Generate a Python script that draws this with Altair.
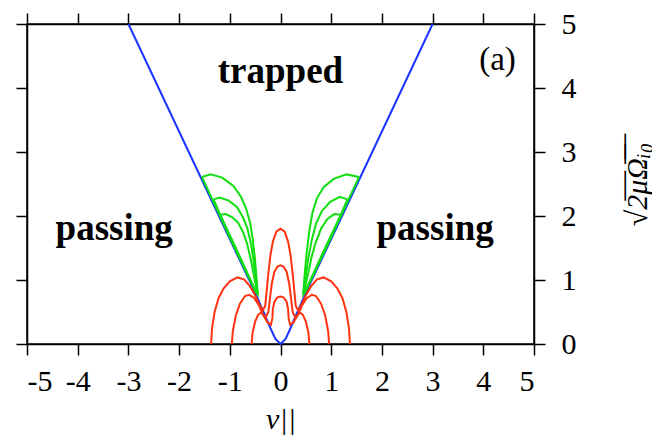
import altair as alt
import pandas as pd

# ---------------- data ----------------
ticks_x = [-5, -4, -3, -2, -1, 0, 1, 2, 3, 4, 5]
ticks_y = [0, 1, 2, 3, 4, 5]

# trapped/passing boundary (blue)
blue_v = [-3.0, -2.0, -1.0, -0.6, -0.45, -0.3, -0.2, -0.1, 0.0, 0.1, 0.2, 0.3, 0.45, 0.6, 1.0, 2.0, 3.0]
blue_y = [5.0, 3.32, 1.64, 0.97, 0.71, 0.44, 0.25, 0.08, 0.0, 0.08, 0.25, 0.44, 0.71, 0.97, 1.64, 3.32, 5.0]

# green loops (left and right)
g1l_v = [-1.55, -1.38, -1.15, -0.93, -0.78, -0.68, -0.60, -0.55, -0.50, -0.47, -0.45, -0.50, -1.00, -1.55]
g1l_y = [2.61, 2.65, 2.60, 2.47, 2.30, 2.12, 1.90, 1.65, 1.30, 1.00, 0.78, 0.84, 1.67, 2.61]
g2l_v = [-1.32, -1.20, -1.02, -0.86, -0.74, -0.65, -0.58, -0.53, -0.49, -0.46, -0.45, -0.50, -1.00, -1.32]
g2l_y = [2.26, 2.29, 2.24, 2.14, 1.98, 1.80, 1.55, 1.30, 1.05, 0.85, 0.78, 0.84, 1.67, 2.26]
g3l_v = [-1.19, -1.08, -0.95, -0.84, -0.74, -0.66, -0.58, -0.52, -0.47, -0.45, -0.50, -0.85, -1.19]
g3l_y = [2.02, 2.03, 1.98, 1.90, 1.75, 1.57, 1.30, 1.05, 0.85, 0.78, 0.84, 1.45, 2.02]
g1r_v = [1.55, 1.30, 1.05, 0.85, 0.72, 0.63, 0.57, 0.52, 0.48, 0.46, 0.45, 0.50, 1.00, 1.55]
g1r_y = [2.61, 2.65, 2.58, 2.45, 2.28, 2.05, 1.78, 1.45, 1.12, 0.90, 0.78, 0.84, 1.68, 2.61]
g2r_v = [1.32, 1.17, 0.98, 0.82, 0.70, 0.61, 0.54, 0.49, 0.46, 0.45, 0.50, 1.00, 1.32]
g2r_y = [2.26, 2.30, 2.22, 2.08, 1.88, 1.60, 1.30, 1.02, 0.85, 0.78, 0.84, 1.67, 2.26]
g3r_v = [1.19, 1.06, 0.92, 0.80, 0.70, 0.61, 0.54, 0.48, 0.45, 0.50, 0.85, 1.19]
g3r_y = [2.02, 2.03, 1.95, 1.80, 1.60, 1.35, 1.08, 0.88, 0.78, 0.84, 1.45, 2.02]

# red orbits
r1_v = [-1.37, -1.35, -1.30, -1.22, -1.12, -1.00, -0.85, -0.72, -0.60, -0.50, -0.42, -0.35,
        -0.30, -0.27, -0.24, -0.20, -0.15, -0.08, 0.00,
        0.08, 0.15, 0.20, 0.24, 0.27, 0.30,
        0.35, 0.42, 0.50, 0.60, 0.72, 0.85, 1.00, 1.12, 1.22, 1.30, 1.35, 1.37]
r1_y = [0.00, 0.25, 0.50, 0.72, 0.87, 0.98, 1.04, 1.01, 0.90, 0.76, 0.62, 0.52,
        0.60, 0.85, 1.10, 1.38, 1.60, 1.76, 1.80,
        1.76, 1.60, 1.38, 1.10, 0.85, 0.60,
        0.52, 0.62, 0.76, 0.90, 1.01, 1.04, 0.98, 0.87, 0.72, 0.50, 0.25, 0.00]
r2_v = [-0.96, -0.94, -0.88, -0.80, -0.70, -0.62, -0.52, -0.43, -0.34,
        -0.30, -0.24, -0.21, -0.17, -0.12, -0.06, 0.00,
        0.06, 0.12, 0.17, 0.21, 0.24, 0.30,
        0.34, 0.43, 0.52, 0.62, 0.70, 0.80, 0.88, 0.94, 0.96]
r2_y = [0.00, 0.20, 0.45, 0.63, 0.75, 0.77, 0.72, 0.61, 0.45,
        0.40, 0.50, 0.70, 0.95, 1.13, 1.21, 1.23,
        1.21, 1.13, 0.95, 0.70, 0.50, 0.40,
        0.45, 0.61, 0.72, 0.77, 0.75, 0.63, 0.45, 0.20, 0.00]
r3_v = [-0.57, -0.55, -0.50, -0.44, -0.38, -0.32, -0.26,
        -0.19, -0.16, -0.15, -0.12, -0.06, 0.00,
        0.06, 0.12, 0.15, 0.16, 0.19,
        0.26, 0.32, 0.38, 0.44, 0.50, 0.55, 0.57]
r3_y = [0.00, 0.18, 0.35, 0.46, 0.49, 0.44, 0.34,
        0.30, 0.40, 0.55, 0.66, 0.73, 0.74,
        0.73, 0.66, 0.55, 0.40, 0.30,
        0.34, 0.44, 0.49, 0.46, 0.35, 0.18, 0.00]

labels = ["trapped", "passing", "passing"]
label_v = [0.0, -3.28, 3.05]
label_y = [4.25, 1.8, 1.8]
panel_tag = "(a)"

# ---------------- tables ----------------
def table(curves):
    rows = []
    for name, vs, ys in curves:
        for i, (v, y) in enumerate(zip(vs, ys)):
            rows.append({"curve": name, "i": i, "v": v, "y": y})
    return pd.DataFrame(rows)

blue_df = table([("blue", blue_v, blue_y)])
green_df = table([("g1l", g1l_v, g1l_y), ("g2l", g2l_v, g2l_y), ("g3l", g3l_v, g3l_y),
                  ("g1r", g1r_v, g1r_y), ("g2r", g2r_v, g2r_y), ("g3r", g3r_v, g3r_y)])
red_df = table([("r1", r1_v, r1_y), ("r2", r2_v, r2_y), ("r3", r3_v, r3_y)])
text_df = pd.DataFrame({"t": labels, "v": label_v, "y": label_y})
tag_df = pd.DataFrame({"t": [panel_tag], "v": [4.28], "y": [4.44]})

FONT = "Liberation Serif"
xs = alt.Scale(domain=[-5, 5], nice=False, zero=False)
ys = alt.Scale(domain=[0, 5], nice=False, zero=False)

axis_common = dict(grid=False, domainColor="black", domainWidth=1.5, tickColor="black",
                   tickWidth=1.5, tickSize=11, labelFont=FONT, labelFontSize=30,
                   labelColor="black", titleFont=FONT, titleColor="black")

x_bottom = alt.Axis(orient="bottom", values=ticks_x, labelExpr="'' + datum.value",
                    labelPadding=11, title="v||", titleFontSize=30, titleFontStyle="italic",
                    titleFontWeight="normal", titlePadding=8, **axis_common)
y_right = alt.Axis(orient="right", values=ticks_y, labelPadding=16,
                   title="√2\u0305μ\u0305Ω\u0305ᵢ\u0305₀\u0305", titleFontSize=30,
                   titleFontStyle="italic", titleFontWeight="normal", titleAngle=270,
                   titlePadding=76, **axis_common)
x_top = alt.Axis(orient="top", values=ticks_x, labels=False, title=None, **axis_common)
y_left = alt.Axis(orient="left", values=ticks_y, labels=False, title=None, **axis_common)

blue = alt.Chart(blue_df).mark_line(color="#1a35ff", strokeWidth=2).encode(
    x=alt.X("v:Q", scale=xs, axis=x_top),
    y=alt.Y("y:Q", scale=ys, axis=y_left),
    order="i:Q",
)
green = alt.Chart(green_df).mark_line(color="#11dd11", strokeWidth=2).encode(
    x=alt.X("v:Q", scale=xs, axis=None),
    y=alt.Y("y:Q", scale=ys, axis=None),
    detail="curve:N",
    order="i:Q",
)
red = alt.Chart(red_df).mark_line(color="#ff3311", strokeWidth=2).encode(
    x=alt.X("v:Q", scale=xs, axis=x_bottom),
    y=alt.Y("y:Q", scale=ys, axis=y_right),
    detail="curve:N",
    order="i:Q",
)
words = alt.Chart(text_df).mark_text(font=FONT, fontSize=37, fontWeight="bold",
                                      color="black", baseline="middle", align="center").encode(
    x=alt.X("v:Q", scale=xs, axis=None),
    y=alt.Y("y:Q", scale=ys, axis=None),
    text="t:N",
)
tag = alt.Chart(tag_df).mark_text(font=FONT, fontSize=33, color="black",
                                   baseline="middle", align="center").encode(
    x=alt.X("v:Q", scale=xs, axis=None),
    y=alt.Y("y:Q", scale=ys, axis=None),
    text="t:N",
)

chart = alt.layer(blue, green, red, words, tag).resolve_axis(
    x="independent", y="independent"
).properties(
    width=507, height=320,
    autosize=alt.AutoSizeParams(type="none"),
    padding={"left": 19, "top": 16, "right": 118, "bottom": 94},
).configure_view(stroke="black", strokeWidth=1.5)

chart.save("out.html", embed_options={"renderer": "svg", "actions": False})
